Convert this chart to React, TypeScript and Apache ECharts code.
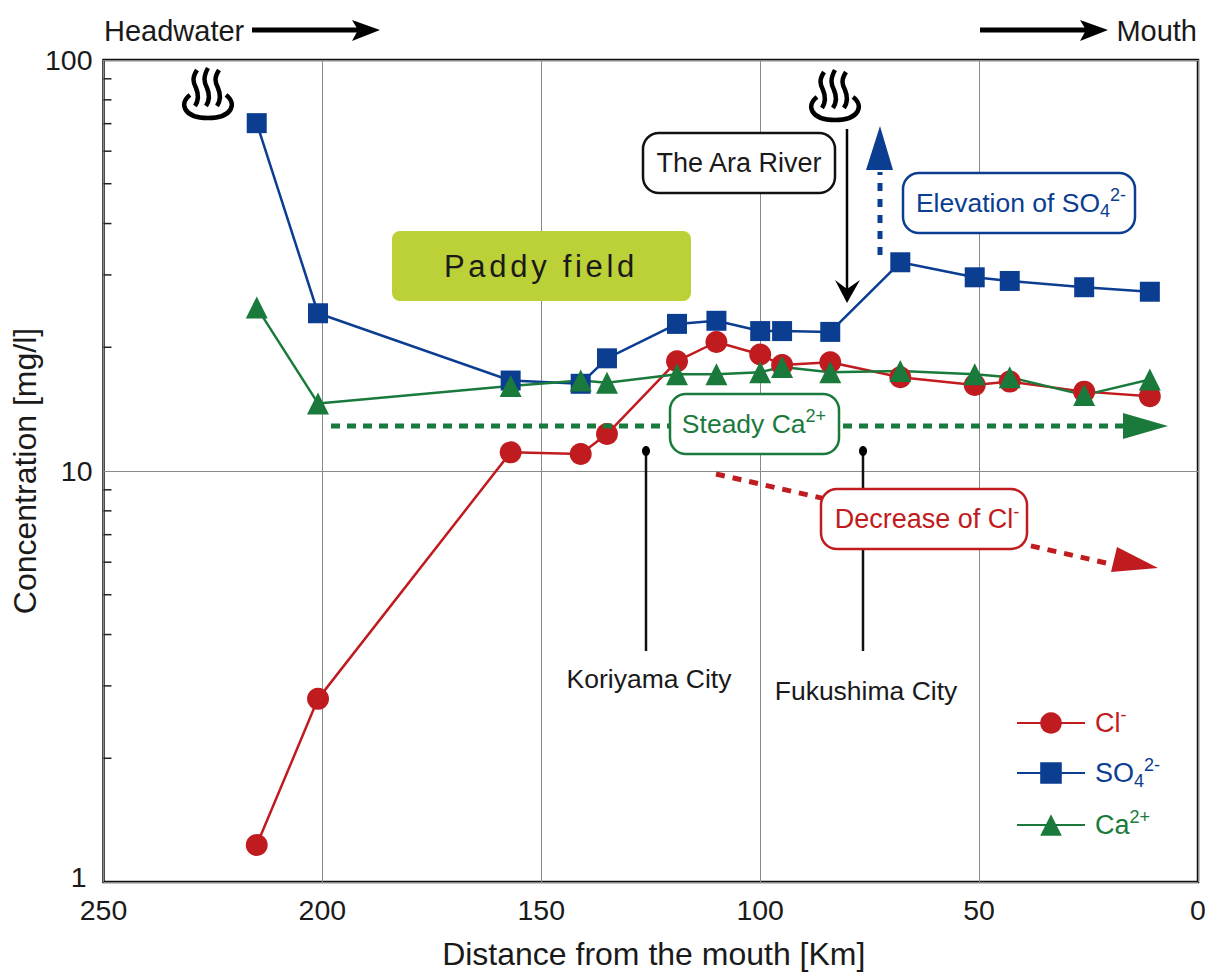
import React, { useEffect, useRef } from "react";
import * as echarts from "echarts";

const distanceKm = [215, 201, 157, 141, 135, 119, 110, 100, 95, 84, 68, 51, 43, 26, 11];
const chlorideValues = [1.23, 2.79, 11.1, 11.0, 12.3, 18.5, 20.6, 19.2, 18.1, 18.4, 16.9, 16.2, 16.5, 15.6, 15.2];
const sulfateValues = [70.2, 24.2, 16.6, 16.3, 18.8, 22.8, 23.2, 21.9, 21.9, 21.8, 32.2, 29.6, 29.0, 28.0, 27.3];
const calciumValues = [25.0, 14.6, 16.1, 16.6, 16.4, 17.2, 17.2, 17.4, 17.9, 17.4, 17.5, 17.2, 16.9, 15.3, 16.7];
const minorTickValues = [2, 3, 4, 5, 6, 7, 8, 9, 20, 30, 40, 50, 60, 70, 80, 90];
const seriesNames = ["Cl-", "SO42-", "Ca2+"];

const RED = "#c01c20";
const BLUE = "#0b3d91";
const GREEN = "#1a7a3c";
const FONT = "Liberation Sans";

const onsenPath =
  "M9,27 C-2,35 2,50 27,50 C52,50 56,35 45,27 " +
  "M16,2 C11,10 12,14 15,20 C18,27 18,32 14,38 " +
  "M27,0 C22,9 23,14 26,20 C29,27 29,32 25,38 " +
  "M38,2 C33,10 34,14 37,20 C40,27 40,32 36,38";
echarts.graphic.registerShape("onsen", echarts.graphic.extendPath(onsenPath, {}));

const richFor = (color: string, size = 26.5) => ({
  m: { fontFamily: FONT, fontSize: size, fill: color, lineHeight: 38, verticalAlign: "middle" },
  sub: { fontFamily: FONT, fontSize: size * 0.68, fill: color, lineHeight: 38, verticalAlign: "bottom", padding: [0, 0, 2, 0] },
  sup: { fontFamily: FONT, fontSize: size * 0.68, fill: color, lineHeight: 38, verticalAlign: "top", padding: [2, 0, 0, 0] },
});

const box = (x: number, y: number, w: number, h: number, color: string, r = 16) => ({
  type: "rect",
  z: 20,
  shape: { x, y, width: w, height: h, r },
  style: { fill: "#fff", stroke: color, lineWidth: 2.5 },
});
const plainText = (x: number, y: number, text: string, size: number, align = "center") => ({
  type: "text",
  z: 21,
  x,
  y,
  style: { text, fontFamily: FONT, fontSize: size, fill: "#1a1a1a", align, verticalAlign: "middle" },
});
const richText = (x: number, y: number, text: string, color: string, size = 26.5) => ({
  type: "text",
  z: 21,
  x,
  y,
  style: { text, rich: richFor(color, size), align: "center", verticalAlign: "middle" },
});
const seg = (x1: number, y1: number, x2: number, y2: number, stroke: string, lineWidth: number, lineDash?: number[]) => ({
  type: "line",
  z: 15,
  shape: { x1, y1, x2, y2 },
  style: { stroke, lineWidth, lineDash },
});
const head = (points: number[][], fill: string) => ({
  type: "polygon",
  z: 15,
  shape: { points },
  style: { fill },
});

const annotations = [
  plainText(104, 31, "Headwater", 29, "left"),
  plainText(1197, 31, "Mouth", 29, "right"),
  seg(252, 30, 362, 30, "#000", 5),
  head([[352, 20], [380, 30], [352, 41], [358, 30]], "#000"),
  seg(980, 30, 1090, 30, "#000", 5),
  head([[1080, 20], [1108, 30], [1080, 41], [1086, 30]], "#000"),

  { type: "onsen", z: 15, x: 181, y: 68, style: { fill: "none", stroke: "#000", lineWidth: 4.5 } },
  { type: "onsen", z: 15, x: 808, y: 70, style: { fill: "none", stroke: "#000", lineWidth: 4.5 } },

  { type: "rect", z: 15, shape: { x: 392, y: 231, width: 299, height: 70, r: 8 }, style: { fill: "#bcd037" } },
  plainText(541, 266, "Paddy field", 31),

  box(643, 133, 192, 60, "#111"),
  plainText(739, 163, "The Ara River", 27),
  seg(847, 129, 847, 290, "#000", 2.5),
  head([[835, 280], [847, 303], [860, 280], [847, 289]], "#000"),

  seg(880, 255, 880, 172, BLUE, 5, [8, 8]),
  head([[880, 126], [893, 170], [866, 170]], BLUE),
  box(903, 173, 232, 60, BLUE),
  richText(1021, 203, "{m|Elevation of SO}{sub|4}{sup|2-}", BLUE),

  seg(331, 426, 1130, 426, GREEN, 5, [9, 7]),
  head([[1123, 413], [1168, 426], [1123, 439]], GREEN),
  box(670, 394, 169, 60, GREEN),
  richText(754, 424, "{m|Steady Ca}{sup|2+}", GREEN),

  seg(646, 451, 646, 651, "#111", 2.5),
  { type: "ellipse", z: 15, shape: { cx: 646, cy: 451, rx: 4, ry: 5 }, style: { fill: "#000" } },
  seg(863, 451, 863, 651, "#111", 2.5),
  { type: "ellipse", z: 15, shape: { cx: 863, cy: 451, rx: 4, ry: 5 }, style: { fill: "#000" } },
  plainText(649, 679, "Koriyama City", 26.5),
  plainText(866, 691, "Fukushima City", 26.5),

  seg(716, 474, 1115, 565, RED, 5, [9, 8]),
  head([[1117, 547], [1158, 568], [1111, 572]], RED),
  box(821, 489, 206, 60, RED),
  richText(927, 519, "{m|Decrease of Cl}{sup|-}", RED, 27),
];

const legendRich = {
  clM: { fontFamily: FONT, fontSize: 27, color: RED, lineHeight: 34, padding: [0, 0, 0, 5] },
  clS: { fontFamily: FONT, fontSize: 18, color: RED, lineHeight: 34, verticalAlign: "top" },
  soM: { fontFamily: FONT, fontSize: 27, color: BLUE, lineHeight: 34, padding: [0, 0, 0, 5] },
  soB: { fontFamily: FONT, fontSize: 18, color: BLUE, lineHeight: 34, verticalAlign: "bottom" },
  soS: { fontFamily: FONT, fontSize: 18, color: BLUE, lineHeight: 34, verticalAlign: "top" },
  caM: { fontFamily: FONT, fontSize: 27, color: GREEN, lineHeight: 34, padding: [0, 0, 0, 5] },
  caS: { fontFamily: FONT, fontSize: 18, color: GREEN, lineHeight: 34, verticalAlign: "top" },
};
const legendLabels: Record<string, string> = {
  "Cl-": "{clM|Cl}{clS|-}",
  "SO42-": "{soM|SO}{soB|4}{soS|2-}",
  "Ca2+": "{caM|Ca}{caS|2+}",
};
const legendTops = [701, 751, 803];

const lineSeries = (name: string, values: number[], color: string, symbol: string, symbolSize: number) => ({
  name,
  type: "line",
  data: distanceKm.map((d, i) => [d, values[i]]),
  symbol,
  symbolSize,
  showSymbol: true,
  lineStyle: { color, width: 2.5 },
  itemStyle: { color },
  silent: true,
});

export default function App() {
  const ref = useRef<HTMLDivElement>(null);
  useEffect(() => {
    if (!ref.current) return;
    const chart = echarts.init(ref.current, undefined, { renderer: "svg" });
    chart.setOption({
      animation: false,
      backgroundColor: "#fff",
      textStyle: { fontFamily: FONT },
      grid: {
        left: 103.5,
        right: 1205 - 1198,
        top: 60,
        bottom: 972 - 882,
        outerBoundsMode: "none",
        show: true,
        borderColor: "#111",
        borderWidth: 2.5,
        backgroundColor: "transparent",
      },
      xAxis: {
        type: "value",
        inverse: true,
        min: 0,
        max: 250,
        interval: 50,
        axisLine: { show: false },
        axisTick: { show: false },
        axisLabel: { color: "#1a1a1a", fontSize: 28.5, fontFamily: FONT, margin: 13 },
        splitLine: { show: true, lineStyle: { color: "#8a8a8a", width: 1 } },
        name: "Distance from the mouth [Km]",
        nameLocation: "middle",
        nameGap: 56,
        nameMoveOverlap: false,
        nameTextStyle: { color: "#1a1a1a", fontSize: 32, fontFamily: FONT, padding: [0, 0, 0, 6] },
      },
      yAxis: {
        type: "log",
        logBase: 10,
        min: 1,
        max: 100,
        axisLine: { show: false },
        axisTick: { show: false },
        axisLabel: {
          color: "#1a1a1a",
          fontSize: 28.5,
          fontFamily: FONT,
          margin: 11,
          formatter: (v: number) => (v === 1 ? "{one|1}" : String(v)),
          rich: { one: { fontSize: 28.5, fontFamily: FONT, color: "#1a1a1a", padding: [0, 6, 10, 0] } },
        },
        splitLine: { show: true, lineStyle: { color: "#8a8a8a", width: 1 } },
        name: "Concentration [mg/l]",
        nameLocation: "middle",
        nameGap: 63,
        nameMoveOverlap: false,
        nameTextStyle: { color: "#1a1a1a", fontSize: 32, fontFamily: FONT },
      },
      legend: seriesNames.map((name, i) => ({
        show: true,
        left: 1011,
        top: legendTops[i],
        orient: "vertical",
        itemWidth: 68,
        itemHeight: 27,
        selectedMode: false,
        data: [name],
        formatter: (n: string) => legendLabels[n],
        textStyle: { rich: legendRich },
      })),
      series: [
        lineSeries(seriesNames[0], chlorideValues, RED, "circle", 22),
        lineSeries(seriesNames[1], sulfateValues, BLUE, "rect", 20),
        lineSeries(seriesNames[2], calciumValues, GREEN, "triangle", 22),
        {
          type: "custom",
          silent: true,
          data: minorTickValues.map((v) => [250, v]),
          renderItem: (_: unknown, api: any) => {
            const p = api.coord([api.value(0), api.value(1)]);
            return {
              type: "line",
              shape: { x1: p[0], y1: p[1], x2: p[0] + 8, y2: p[1] },
              style: { stroke: "#222", lineWidth: 1.5 },
            };
          },
        },
      ],
      graphic: { elements: annotations },
    });
    ref.current.querySelectorAll("text").forEach((t) => {
      if (t.textContent === "Paddy field") t.setAttribute("letter-spacing", "3.7");
    });
    return () => chart.dispose();
  }, []);
  return <div ref={ref} style={{ position: "fixed", left: 0, top: 0, width: 1205, height: 972 }} />;
}
